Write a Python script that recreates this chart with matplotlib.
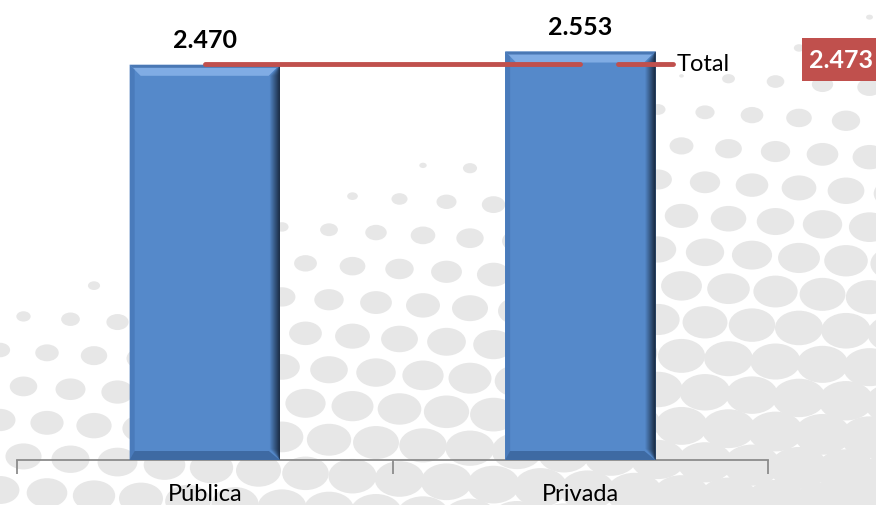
import numpy as np
import matplotlib
matplotlib.use("Agg")
import matplotlib.pyplot as plt
from matplotlib.patches import Ellipse, Polygon, Rectangle
from matplotlib.transforms import IdentityTransform

categories = ["Pública", "Privada"]
values = [2.470, 2.553]
value_labels = ["2.470", "2.553"]
total_value = 2.473
total_label = "2.473"
total_name = "Total"

plt.rcParams['font.family'] = ['Lato', 'DejaVu Sans']

W, H = 876, 505
fig = plt.figure(figsize=(W / 100, H / 100), dpi=100)
fig.patch.set_facecolor('white')

# decorative halftone background
bg = fig.add_axes([0, 0, 1, 1], zorder=0)
bg.set_xlim(0, W)
bg.set_ylim(H, 0)
bg.axis('off')
csp, rsp = 47.0, 35.0
for j in range(-2, 20):
    for i in range(-2, 22):
        px = i * csp + (j % 2) * csp * 0.5
        py = j * rsp + 0.06 * px
        if px < -40 or px > W + 40 or py < -40 or py > H + 40:
            continue
        y0 = 265 - (px - 100) * 0.33
        dy = py - y0
        if dy <= 0:
            continue
        w = 2.8 * np.sqrt(dy)
        if w < 3:
            continue
        w = min(w, 68)
        bg.add_patch(Ellipse((px, py), w, w * 0.72,
                             facecolor='#e7e7e7', edgecolor='none'))

# main axes
bottom_px = 460
ax = fig.add_axes([17 / W, (H - bottom_px) / H, (768 - 17) / W, bottom_px / H], zorder=1)
ax.patch.set_alpha(0)
ax.set_xlim(-0.5, 1.5)
ax.set_ylim(0, bottom_px / 160.0)
x = np.arange(len(categories))
bars = ax.bar(x, values, width=0.4, color='#5589ca', edgecolor='none', zorder=2)

fig.canvas.draw()
for b in bars:
    bb = b.get_window_extent()
    x0, y0, x1, y1 = bb.x0, bb.y0, bb.x1, bb.y1
    e = 11
    # top bevel (light)
    ax.add_patch(Polygon([[x0, y1], [x1, y1], [x1 - e, y1 - e], [x0 + e, y1 - e]],
                         closed=True, transform=IdentityTransform(),
                         facecolor='#80ace4', edgecolor='none', zorder=3))
    ax.add_patch(Polygon([[x0, y1], [x1, y1], [x1 - 3, y1 - 3], [x0 + 3, y1 - 3]],
                         closed=True, transform=IdentityTransform(),
                         facecolor='#4a78b4', edgecolor='none', zorder=3))
    # right bevel (dark gradient)
    n = 10
    for k in range(n):
        t = k / n
        c = np.array([0x55, 0x89, 0xca]) / 255 * (1 - t) + np.array([0x16, 0x25, 0x3a]) / 255 * t
        ax.add_patch(Polygon([[x1 - e + k * e / n, y1 - e], [x1, y1], [x1, y0], [x1 - e + k * e / n, y0 + e]],
                             closed=True, transform=IdentityTransform(),
                             facecolor=c, edgecolor='none', zorder=3))
    # left bevel (slight dark)
    ax.add_patch(Polygon([[x0, y1], [x0 + 5, y1 - 5], [x0 + 5, y0 + 5], [x0, y0]],
                         closed=True, transform=IdentityTransform(),
                         facecolor='#4a7bbb', edgecolor='none', zorder=3))
    # bottom bevel
    ax.add_patch(Polygon([[x0, y0], [x1, y0], [x1 - e, y0 + 9], [x0 + 5, y0 + 9]],
                         closed=True, transform=IdentityTransform(),
                         facecolor='#3e6aa3', edgecolor='none', zorder=3))

# value labels
for xi, v, lab in zip(x, values, value_labels):
    ax.annotate(lab, (xi, v), xytext=(0, 9), textcoords='offset points',
                ha='center', va='bottom', fontsize=18, fontweight='bold',
                color='black', zorder=5)

# total line
ax.plot([x[0], x[-1]], [total_value, total_value], color='#c0504d', lw=3.5,
        solid_capstyle='round', zorder=4)
ax.plot([1.10, 1.247], [total_value, total_value], color='#c0504d', lw=3.5,
        solid_capstyle='round', zorder=4)
ax.text(1.257, total_value, total_name, ha='left', va='center', fontsize=17,
        color='black', zorder=5)

# red box label
ov = fig.add_axes([0, 0, 1, 1], zorder=6)
ov.set_xlim(0, W)
ov.set_ylim(H, 0)
ov.axis('off')
ov.patch.set_alpha(0)
ov.add_patch(Rectangle((802, 38), 80, 43, facecolor='#c0504d', edgecolor='none'))
ov.text(809, 60, total_label, ha='left', va='center', fontsize=18,
        fontweight='bold', color='white')

# axes styling
for s in ['top', 'right', 'left']:
    ax.spines[s].set_visible(False)
ax.spines['bottom'].set_color('#8c8c8c')
ax.spines['bottom'].set_linewidth(1.3)
ax.set_yticks([])
ax.set_xticks([-0.5, 0.5, 1.5])
ax.set_xticklabels([])
ax.set_xticks(x, minor=True)
ax.set_xticklabels(categories, minor=True, fontsize=17)
ax.tick_params(axis='x', which='major', direction='out', length=10, color='#8c8c8c', width=1.3)
ax.tick_params(axis='x', which='minor', length=0, pad=17)

fig.savefig('out.png', dpi=100, facecolor='white')
